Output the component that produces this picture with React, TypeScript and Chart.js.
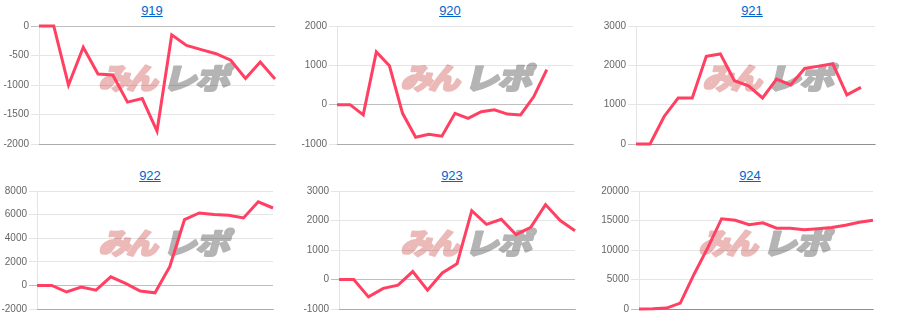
import React, { useEffect, useRef } from 'react';
import { Chart, registerables } from 'chart.js';

Chart.register(...registerables);

// ---------- data ----------
const titles = ['919', '920', '921', '922', '923', '924'];

const labels17 = ['1', '2', '3', '4', '5', '6', '7', '8', '9', '10', '11', '12', '13', '14', '15', '16', '17'];
const labels18 = ['1', '2', '3', '4', '5', '6', '7', '8', '9', '10', '11', '12', '13', '14', '15', '16', '17', '18'];
const labels19 = ['1', '2', '3', '4', '5', '6', '7', '8', '9', '10', '11', '12', '13', '14', '15', '16', '17', '18', '19'];

const v919 = [0, 0, -1000, -360, -815, -830, -1290, -1230, -1780, -150, -330, -400, -470, -580, -890, -610, -900];
const v920 = [0, 0, -260, 1340, 990, -220, -830, -750, -800, -220, -350, -180, -130, -240, -260, 200, 890];
const v921 = [0, 0, 700, 1170, 1170, 2230, 2290, 1610, 1480, 1170, 1650, 1500, 1920, 1980, 2040, 1250, 1440];
const v922 = [0, 0, -560, -140, -400, 730, 170, -480, -630, 1580, 5580, 6140, 6000, 5940, 5720, 7080, 6560];
const v923 = [0, 0, -590, -300, -190, 270, -360, 220, 530, 2330, 1870, 2040, 1520, 1770, 2540, 2000, 1650];
const v924 = [0, 30, 150, 1000, 5900, 10400, 15300, 15050, 14300, 14600, 13700, 13700, 13450, 13600, 13800, 14200, 14700, 15050];

// y-axis ranges [min, max, step]
const range919 = [-2000, 0, 500];
const range920 = [-1000, 2000, 1000];
const range921 = [0, 3000, 1000];
const range922 = [-2000, 8000, 2000];
const range923 = [-1000, 3000, 1000];
const range924 = [0, 20000, 5000];

const watermarkRed = 'みん';
const watermarkGray = 'レポ';

// ---------- layout (page pixels) ----------
type Panel = {
  title: string;
  labels: string[];
  values: number[];
  range: number[];
  titleX: number;
  titleTop: number;
  L: number; R: number; T: number; B: number;
  wmX: number; wmY: number;
};

const panels: Panel[] = [
  { title: titles[0], labels: labels17, values: v919, range: range919, titleX: 152, titleTop: 3, L: 39, R: 275, T: 26, B: 144, wmX: 162, wmY: 77 },
  { title: titles[1], labels: labels19, values: v920, range: range920, titleX: 450, titleTop: 3, L: 337, R: 573, T: 26, B: 144, wmX: 464, wmY: 77 },
  { title: titles[2], labels: labels18, values: v921, range: range921, titleX: 752, titleTop: 3, L: 636, R: 875, T: 26, B: 144, wmX: 766, wmY: 77 },
  { title: titles[3], labels: labels17, values: v922, range: range922, titleX: 150, titleTop: 168, L: 37, R: 273, T: 191, B: 309, wmX: 162, wmY: 242 },
  { title: titles[4], labels: labels17, values: v923, range: range923, titleX: 452, titleTop: 168, L: 339, R: 575, T: 191, B: 309, wmX: 464, wmY: 242 },
  { title: titles[5], labels: labels18, values: v924, range: range924, titleX: 750, titleTop: 168, L: 639, R: 873, T: 191, B: 309, wmX: 762, wmY: 242 },
];

const AXIS_W = 40;
const PAD_T = 8;
const PAD_B = 8;
const PAD_R = 4;
const FONT = 'Arial, "Liberation Sans", Helvetica, sans-serif';

const watermarkPlugin = {
  id: 'wm',
  beforeDraw(chart: any, _args: any, opts: any) {
    const ctx = chart.ctx as CanvasRenderingContext2D;
    ctx.save();
    ctx.translate(opts.x, opts.y);
    ctx.transform(1, 0, -0.25, 1, 0, 0);
    ctx.font = '900 29px "Noto Sans CJK JP", sans-serif';
    ctx.textBaseline = 'middle';
    ctx.lineJoin = 'round';
    ctx.lineWidth = 2.2;
    // red part
    ctx.textAlign = 'right';
    ctx.fillStyle = '#ecb9b9';
    ctx.strokeStyle = '#ecb9b9';
    ctx.save();
    (ctx as any).letterSpacing = '-3px';
    ctx.scale(1.08, 1);
    ctx.fillText(watermarkRed, -4, 1);
    ctx.strokeText(watermarkRed, -4, 1);
    ctx.restore();
    // gray part
    ctx.textAlign = 'left';
    ctx.fillStyle = '#b4b4b4';
    ctx.strokeStyle = '#b4b4b4';
    ctx.save();
    (ctx as any).letterSpacing = '-1px';
    ctx.scale(1.18, 1);
    ctx.fillText(watermarkGray, 3, 1);
    ctx.strokeText(watermarkGray, 3, 1);
    ctx.restore();
    ctx.restore();
  },
};

function MiniChart({ p }: { p: Panel }) {
  const ref = useRef<HTMLCanvasElement | null>(null);
  const cLeft = p.L - AXIS_W;
  const cTop = p.T - PAD_T;
  const cW = p.R + PAD_R - cLeft;
  const cH = p.B + PAD_B - cTop;

  useEffect(() => {
    if (!ref.current) return;
    const chart = new Chart(ref.current, {
      type: 'line',
      data: {
        labels: p.labels,
        datasets: [
          {
            data: p.values,
            borderColor: 'rgb(255, 64, 98)',
            backgroundColor: 'rgb(255, 64, 98)',
            borderWidth: 3,
            pointRadius: 0,
            pointHoverRadius: 0,
            tension: 0,
            fill: false,
            clip: false as any,
          },
        ],
      },
      options: {
        animation: false,
        responsive: false,
        devicePixelRatio: 1,
        events: [],
        layout: { padding: { left: 0, top: PAD_T, right: PAD_R, bottom: PAD_B } },
        plugins: {
          legend: { display: false },
          tooltip: { enabled: false },
          title: { display: false },
          wm: { x: p.wmX - cLeft, y: p.wmY - cTop },
        } as any,
        scales: {
          x: {
            type: 'category',
            offset: false,
            ticks: { display: false },
            grid: { display: false, drawTicks: false },
            border: { display: true, color: 'rgba(0,0,0,0.25)', width: 1 },
          },
          y: {
            min: p.range[0],
            max: p.range[1],
            afterFit: (scale: any) => {
              scale.width = AXIS_W;
            },
            ticks: {
              stepSize: p.range[2],
              color: '#666',
              padding: 2,
              font: { family: FONT, size: 10 },
              callback: (v: any) => String(v),
            },
            grid: {
              tickLength: 8,
              color: (c: any) => (c.tick && c.tick.value === 0 ? 'rgba(0,0,0,0.25)' : 'rgba(0,0,0,0.1)'),
            },
            border: { display: true, color: 'rgba(0,0,0,0.1)', width: 1 },
          },
        },
      },
      plugins: [watermarkPlugin],
    });
    return () => chart.destroy();
  }, []);

  return (
    <>
      <div
        style={{
          position: 'absolute',
          left: p.titleX - 50,
          top: p.titleTop,
          width: 100,
          textAlign: 'center',
          fontFamily: FONT,
          fontSize: 13,
          lineHeight: '15px',
        }}
      >
        <a href="#" style={{ color: '#0066cc', textDecoration: 'underline' }}>
          {p.title}
        </a>
      </div>
      <canvas
        ref={ref}
        width={cW}
        height={cH}
        style={{ position: 'absolute', left: cLeft, top: cTop, width: cW, height: cH }}
      />
    </>
  );
}

export default function App() {
  return (
    <div style={{ position: 'absolute', left: 0, top: 0, width: 900, height: 330, background: '#fff', overflow: 'hidden' }}>
      {panels.map((p) => (
        <MiniChart key={p.title} p={p} />
      ))}
    </div>
  );
}
